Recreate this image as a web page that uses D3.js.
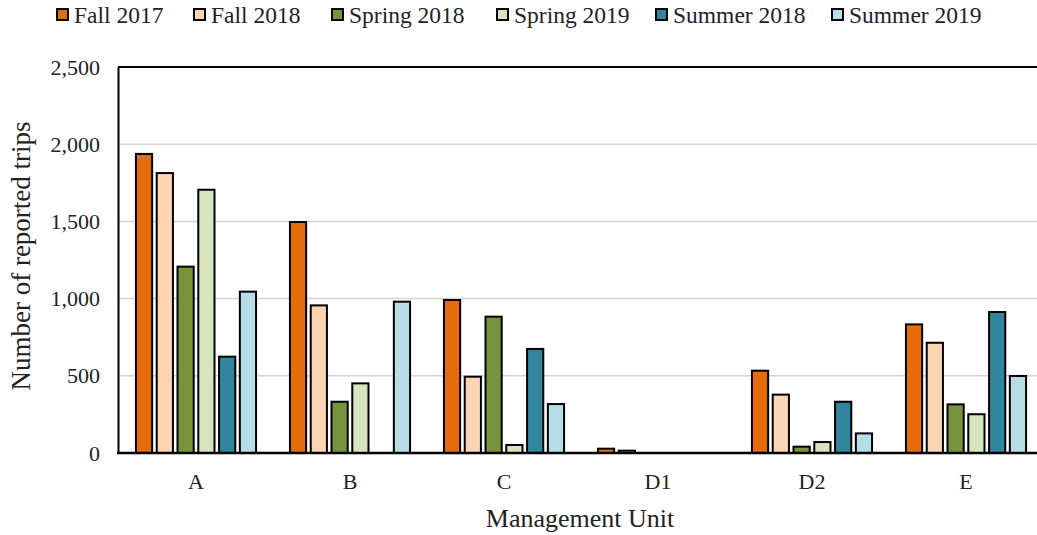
<!DOCTYPE html>
<html>
<head>
<meta charset="utf-8">
<script src="https://cdn.jsdelivr.net/npm/d3@7"></script>
<style>
  body { margin: 0; background: #fff; }
</style>
</head>
<body>
<script>
// categories and series
const units = ['A', 'B', 'C', 'D1', 'D2', 'E'];
const seasons = ['Fall 2017', 'Fall 2018', 'Spring 2018', 'Spring 2019', 'Summer 2018', 'Summer 2019'];
const colors = ['#E46C0A', '#FCD5B5', '#77933C', '#D7E4BD', '#31859C', '#B7DEE8'];

// values per season, in unit order
const fall2017 = [1937, 1496, 991, 28, 533, 833];
const fall2018 = [1813, 956, 494, 15, 378, 714];
const spring2018 = [1207, 332, 883, 0, 41, 315];
const spring2019 = [1705, 451, 52, 0, 71, 251];
const summer2018 = [624, 0, 674, 0, 332, 913];
const summer2019 = [1045, 980, 317, 0, 127, 499];
const seriesValues = [fall2017, fall2018, spring2018, spring2019, summer2018, summer2019];

const yTicks = [0, 500, 1000, 1500, 2000, 2500];

const width = 1037, height = 535;
const plotLeft = 119, plotTop = 67, plotBottom = 453;
const serif = "'Liberation Serif', 'Times New Roman', 'DejaVu Serif', serif";

const svg = d3.select('body').append('svg')
    .attr('width', width).attr('height', height)
    .attr('font-family', serif);

const x = d3.scaleBand()
    .domain(units)
    .range([plotLeft, plotLeft + 924])
    .paddingInner(0.22)
    .paddingOuter(0.11);

const xInner = d3.scaleBand()
    .domain(seasons)
    .range([0, x.bandwidth()])
    .paddingInner(0.22);

const y = d3.scaleLinear()
    .domain([0, 2500])
    .range([plotBottom, plotTop]);

// gridlines
svg.append('g')
    .selectAll('line')
    .data(yTicks.filter(d => d > 0 && d < 2500))
    .enter().append('line')
    .attr('x1', plotLeft).attr('x2', width)
    .attr('y1', d => y(d)).attr('y2', d => y(d))
    .attr('stroke', '#d4d4d4')
    .attr('stroke-width', 1.5);

// bars
const rows = [];
seasons.forEach((s, i) => {
    units.forEach((u, j) => {
        rows.push({ unit: u, season: s, value: seriesValues[i][j], color: colors[i] });
    });
});

svg.append('g')
    .selectAll('rect')
    .data(rows.filter(d => d.value > 0))
    .enter().append('rect')
    .attr('x', d => x(d.unit) + xInner(d.season))
    .attr('y', d => y(d.value))
    .attr('width', xInner.bandwidth())
    .attr('height', d => plotBottom - y(d.value))
    .attr('fill', d => d.color)
    .attr('stroke', '#000')
    .attr('stroke-width', 2);

// frame: top border
svg.append('line')
    .attr('x1', plotLeft - 1).attr('x2', width)
    .attr('y1', plotTop).attr('y2', plotTop)
    .attr('stroke', '#000').attr('stroke-width', 2);

svg.append('g')
    .attr('transform', `translate(${plotLeft - 1},0)`)
    .call(d3.axisLeft(y).tickValues(yTicks).tickSize(0).tickPadding(18).tickFormat(d3.format(',')))
    .attr('font-family', serif)
    .attr('font-size', 22)
    .call(g => g.select('.domain').attr('stroke', '#000').attr('stroke-width', 2))
    .call(g => g.selectAll('text').attr('fill', '#222'));

svg.append('g')
    .attr('transform', `translate(0,${plotBottom})`)
    .call(d3.axisBottom(x).tickSize(0).tickPadding(20))
    .attr('font-family', serif)
    .attr('font-size', 22)
    .call(g => g.select('.domain').attr('d', `M${plotLeft - 2},0H${width}`).attr('stroke', '#000').attr('stroke-width', 2.5))
    .call(g => g.selectAll('text').attr('fill', '#222'));

// axis titles
svg.append('text')
    .attr('transform', 'translate(30,256) rotate(-90)')
    .attr('text-anchor', 'middle')
    .attr('font-size', 27)
    .attr('fill', '#222')
    .text('Number of reported trips');

svg.append('text')
    .attr('x', 580).attr('y', 527)
    .attr('text-anchor', 'middle')
    .attr('font-size', 26)
    .attr('fill', '#222')
    .text('Management Unit');

// legend
const legendX = [57, 194, 332, 497, 656, 832];
const legend = svg.append('g')
    .selectAll('g')
    .data(seasons)
    .enter().append('g')
    .attr('transform', (d, i) => `translate(${legendX[i]},9)`);

legend.append('rect')
    .attr('width', 11).attr('height', 11)
    .attr('fill', (d, i) => colors[i])
    .attr('stroke', '#000').attr('stroke-width', 2);

legend.append('text')
    .attr('x', 17).attr('y', 14)
    .attr('font-size', 23.5)
    .attr('fill', '#222')
    .text(d => d);
</script>
</body>
</html>
